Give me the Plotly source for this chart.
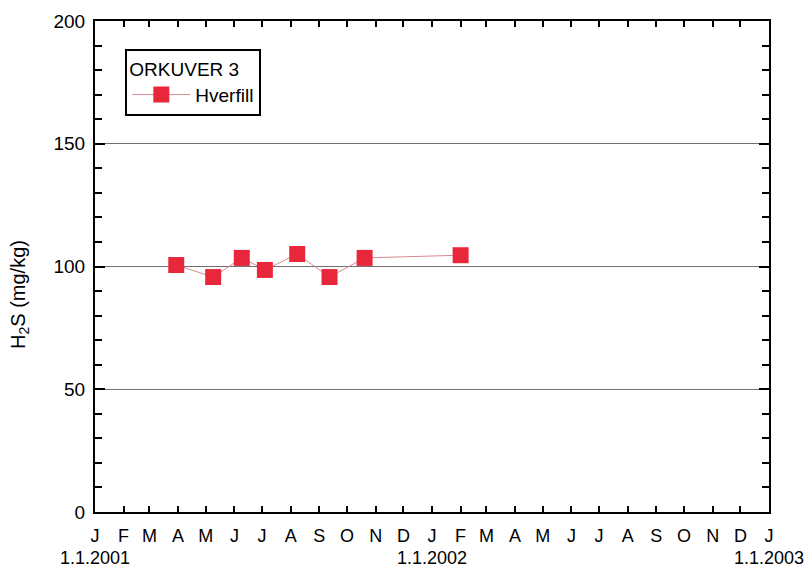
import plotly.graph_objects as go

# Sampling dates and H2S concentrations for the well
sample_dates = ["2001-03-30", "2001-05-09", "2001-06-09", "2001-07-04",
                "2001-08-08", "2001-09-12", "2001-10-20", "2002-02-01"]
h2s_values = [100.6, 95.7, 103.5, 98.6, 105.1, 95.7, 103.5, 104.6]

series_name = "Hverfill"
legend_title = "ORKUVER 3"
y_title = "H<sub>2</sub>S (mg/kg)"

# Monthly ticks over two years with single-letter labels
month_letters = ["J", "F", "M", "A", "M", "J", "J", "A", "S", "O", "N", "D"]
month_ticks = [f"{2001 + i // 12}-{i % 12 + 1:02d}-01" for i in range(24)] + ["2003-01-01"]
month_text = [month_letters[i % 12] for i in range(24)] + ["J"]

# Year markers printed under the January ticks
year_ticks = ["2001-01-01", "2002-01-01", "2003-01-01"]
year_labels = ["1.1.2001", "1.1.2002", "1.1.2003"]

FONT = "Liberation Sans, Arial, sans-serif"

fig = go.Figure()
fig.add_trace(go.Scatter(
    x=sample_dates, y=h2s_values, name=series_name,
    mode="lines+markers",
    line=dict(color="#d88a92", width=1),
    marker=dict(symbol="square", size=16, color="#e8283a"),
    showlegend=True,
))

for d, lab in zip(year_ticks, year_labels):
    fig.add_annotation(x=d, y=0, xref="x", yref="paper", yshift=-46,
                       text=lab, showarrow=False,
                       font=dict(family=FONT, size=18, color="black"),
                       xanchor="center", yanchor="middle")

fig.add_annotation(x=0, y=0.442, xref="paper", yref="paper", xshift=-75,
                   text=y_title, textangle=-90, showarrow=False,
                   font=dict(family=FONT, size=20, color="black"),
                   xanchor="center", yanchor="middle")

fig.update_layout(
    width=809, height=570,
    margin=dict(l=95, r=40, t=21, b=58),
    paper_bgcolor="white", plot_bgcolor="white",
    font=dict(family=FONT, size=18, color="black"),
    legend=dict(
        title=dict(text=legend_title, font=dict(size=19)),
        x=0.045, y=0.943, xanchor="left", yanchor="top",
        bgcolor="white", bordercolor="black", borderwidth=2,
        font=dict(size=19), itemwidth=58,
        tracegroupgap=0,
    ),
    xaxis=dict(
        range=["2001-01-01", "2003-01-01"],
        tickmode="array", tickvals=month_ticks, ticktext=month_text,
        ticks="inside", ticklen=6, tickwidth=2, tickcolor="black",
        showline=True, linecolor="black", linewidth=2, mirror="allticks",
        showgrid=False, zeroline=False,
        ticklabelstandoff=6,
        tickfont=dict(size=18),
    ),
    yaxis=dict(
        range=[0, 200], tickmode="linear", tick0=0, dtick=50,
        ticks="inside", ticklen=10, tickwidth=2, tickcolor="black",
        showline=True, linecolor="black", linewidth=2, mirror="allticks",
        showgrid=True, gridcolor="#707070", gridwidth=1, zeroline=False,
        minor=dict(ticks="inside", dtick=10, ticklen=7, tickwidth=2,
                   tickcolor="black", showgrid=False),
        ticklabelstandoff=4,
        tickfont=dict(size=19),
    ),
)

fig.write_html("out.html")
